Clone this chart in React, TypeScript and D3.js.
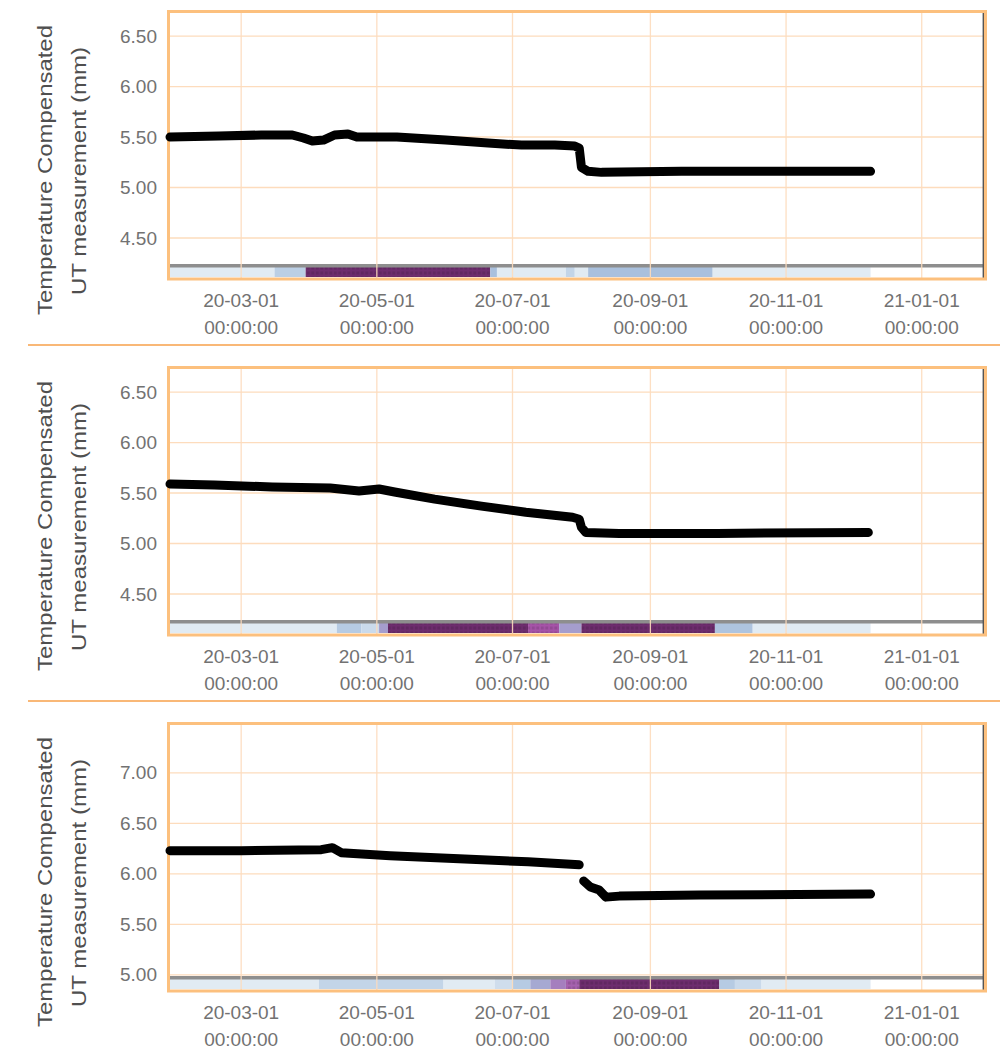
import React from "react";
import * as d3 from "d3";

// ---- data ----
const xDomain = ["2020-01-29", "2021-01-29"];
const xTicks = ["2020-03-01", "2020-05-01", "2020-07-01", "2020-09-01", "2020-11-01", "2021-01-01"];

const yTicksA = [4.5, 5.0, 5.5, 6.0, 6.5];
const yTicksB = [5.0, 5.5, 6.0, 6.5, 7.0];
const yDomainA = [4.104, 6.738];
const yDomainB = [4.85, 7.485];

const titleLines = ["Temperature Compensated", "UT measurement (mm)"];

const series1: [string, number | null][] = [
  ["2020-01-29", 5.5], ["2020-02-20", 5.51], ["2020-03-10", 5.52], ["2020-03-24", 5.52],
  ["2020-03-29", 5.49], ["2020-04-02", 5.46], ["2020-04-07", 5.47], ["2020-04-12", 5.52],
  ["2020-04-18", 5.53], ["2020-04-22", 5.5], ["2020-05-10", 5.5], ["2020-06-01", 5.47],
  ["2020-06-20", 5.44], ["2020-07-05", 5.42], ["2020-07-20", 5.42], ["2020-07-29", 5.41],
  ["2020-07-31", 5.39], ["2020-08-01", 5.2], ["2020-08-04", 5.16], ["2020-08-10", 5.15],
  ["2020-09-15", 5.16], ["2020-10-20", 5.16], ["2020-12-09", 5.16],
];

const series2: [string, number | null][] = [
  ["2020-01-29", 5.59], ["2020-02-18", 5.58], ["2020-03-15", 5.56], ["2020-04-10", 5.55],
  ["2020-04-23", 5.52], ["2020-05-02", 5.54], ["2020-05-09", 5.51], ["2020-05-27", 5.44],
  ["2020-06-17", 5.37], ["2020-07-07", 5.31], ["2020-07-28", 5.26], ["2020-07-31", 5.24],
  ["2020-08-01", 5.16], ["2020-08-03", 5.11], ["2020-08-18", 5.1], ["2020-10-01", 5.1],
  ["2020-12-08", 5.11],
];

const series3: [string, number | null][] = [
  ["2020-01-29", 6.23], ["2020-03-01", 6.23], ["2020-04-06", 6.24], ["2020-04-11", 6.26],
  ["2020-04-15", 6.21], ["2020-05-07", 6.18], ["2020-06-07", 6.15], ["2020-07-08", 6.12],
  ["2020-07-31", 6.09], ["2020-08-01", null], ["2020-08-02", 5.93], ["2020-08-05", 5.87],
  ["2020-08-09", 5.84], ["2020-08-12", 5.77], ["2020-08-18", 5.78], ["2020-09-23", 5.79],
  ["2020-12-09", 5.8],
];

// strip: [start, end, intensity]
const strip1: [string, string, number][] = [
  ["2020-01-29", "2020-03-16", 0.12], ["2020-03-16", "2020-03-30", 0.28],
  ["2020-03-30", "2020-06-21", 1.0], ["2020-06-21", "2020-06-24", 0.35],
  ["2020-06-24", "2020-07-25", 0.12], ["2020-07-25", "2020-07-29", 0.25],
  ["2020-07-29", "2020-08-04", 0.12], ["2020-08-04", "2020-09-29", 0.35],
  ["2020-09-29", "2020-12-09", 0.12],
];
const strip2: [string, string, number][] = [
  ["2020-01-29", "2020-04-13", 0.12], ["2020-04-13", "2020-04-24", 0.3],
  ["2020-04-24", "2020-05-02", 0.22], ["2020-05-02", "2020-05-06", 0.5],
  ["2020-05-06", "2020-07-08", 1.0], ["2020-07-08", "2020-07-22", 0.75],
  ["2020-07-22", "2020-08-01", 0.5], ["2020-08-01", "2020-09-30", 1.0],
  ["2020-09-30", "2020-10-17", 0.33], ["2020-10-17", "2020-12-09", 0.12],
];
const strip3: [string, string, number][] = [
  ["2020-01-29", "2020-04-05", 0.12], ["2020-04-05", "2020-05-31", 0.25],
  ["2020-05-31", "2020-06-23", 0.12], ["2020-06-23", "2020-07-01", 0.2],
  ["2020-07-01", "2020-07-09", 0.3], ["2020-07-09", "2020-07-18", 0.45],
  ["2020-07-18", "2020-07-25", 0.6], ["2020-07-25", "2020-07-31", 0.7],
  ["2020-07-31", "2020-10-02", 1.0], ["2020-10-02", "2020-10-09", 0.3],
  ["2020-10-09", "2020-10-21", 0.22], ["2020-10-21", "2020-12-09", 0.12],
];

const colorStops = [0.12, 0.25, 0.35, 0.5, 0.75, 1.0];
const colorRange = ["#e1ebf3", "#c3d5e8", "#a9c0dd", "#a59dcd", "#a653a8", "#6e2d6e"];

export default function App() {
  const parse = d3.timeParse("%Y-%m-%d");
  const x = d3.scaleTime().domain(xDomain.map((s) => parse(s) as Date)).range([170, 984]);
  const fmtDate = d3.timeFormat("%y-%m-%d");
  const fmtTime = d3.timeFormat("%H:%M:%S");
  const fmtY = d3.format(".2f");
  const color = d3.scaleLinear<string>().domain(colorStops).range(colorRange).clamp(true);

  const panels = [
    { series: series1, strip: strip1, yDomain: yDomainA, yTicks: yTicksA },
    { series: series2, strip: strip2, yDomain: yDomainA, yTicks: yTicksA },
    { series: series3, strip: strip3, yDomain: yDomainB, yTicks: yTicksB },
  ];

  const gridColor = "#fddcbd";
  const frameColor = "#fcc07e";
  const tickColor = "#727272";

  return (
    <svg
      width={1007}
      height={1049}
      style={{ position: "absolute", left: 0, top: 0, display: "block", background: "#fff" }}
      fontFamily="'Liberation Sans', Arial, sans-serif"
    >
      <defs>
        <pattern id="dots" width={4.5} height={5} patternUnits="userSpaceOnUse">
          <rect x={0.8} y={1.5} width={3} height={3} fill="#000" opacity={0.12} />
        </pattern>
      </defs>
      <rect x={0} y={0} width={1007} height={1049} fill="#fff" />
      {panels.map((p, i) => {
        const o = i * 356;
        const top = 12 + o;
        const bottom = 278 + o;
        const left = 170;
        const right = 984;
        const y = d3.scaleLinear().domain(p.yDomain).range([bottom, top]);
        const line = d3
          .line<[string, number | null]>()
          .defined((d) => d[1] != null)
          .x((d) => x(parse(d[0]) as Date))
          .y((d) => y(d[1] as number));
        const xt = xTicks.map((s) => parse(s) as Date);
        return (
          <g key={i}>
            {/* strip */}
            {p.strip.map((s, j) => {
              const x0 = x(parse(s[0]) as Date);
              const x1 = x(parse(s[1]) as Date);
              return (
                <g key={j}>
                  <rect x={x0} y={bottom - 11} width={Math.max(0, x1 - x0)} height={10} fill={color(s[2])} />
                  {s[2] >= 0.7 && (
                    <rect x={x0} y={bottom - 11} width={Math.max(0, x1 - x0)} height={10} fill="url(#dots)" />
                  )}
                </g>
              );
            })}
            <rect x={left} y={bottom - 14} width={right - left} height={3.5} fill="#8e8e8e" />
            {/* grid */}
            {xt.map((d, j) => (
              <line key={"gx" + j} x1={x(d)} x2={x(d)} y1={top} y2={bottom} stroke={gridColor} strokeWidth={1.3} opacity={0.9} />
            ))}
            {p.yTicks.map((v, j) => (
              <line key={"gy" + j} x1={left} x2={right} y1={y(v)} y2={y(v)} stroke={gridColor} strokeWidth={1.3} />
            ))}
            {/* right dark edge */}
            <line x1={983.5} x2={983.5} y1={top} y2={bottom} stroke="#555" strokeWidth={1.8} />
            {/* frame */}
            <rect x={168.5} y={top - 0.5} width={817} height={bottom - top + 1.5} fill="none" stroke={frameColor} strokeWidth={3} />
            {/* data line */}
            <path
              d={line(p.series) || ""}
              fill="none"
              stroke="#000"
              strokeWidth={9}
              strokeLinejoin="round"
              strokeLinecap="round"
            />
            {/* y tick labels */}
            {p.yTicks.map((v, j) => (
              <text key={"ty" + j} x={157} y={y(v) + 6.5} textAnchor="end" fontSize={19} fill={tickColor}>
                {fmtY(v)}
              </text>
            ))}
            {/* x tick labels */}
            {xt.map((d, j) => (
              <g key={"tx" + j}>
                <text x={x(d)} y={bottom + 29} textAnchor="middle" fontSize={19} fill={tickColor}>
                  {fmtDate(d)}
                </text>
                <text x={x(d)} y={bottom + 56} textAnchor="middle" fontSize={19} fill={tickColor}>
                  {fmtTime(d)}
                </text>
              </g>
            ))}
            {/* y title */}
            <text
              x={51.5}
              y={170 + o}
              transform={`rotate(-90, 51.5, ${170 + o})`}
              textAnchor="middle"
              fontSize={20}
              fill="#4f4f4f"
              textLength={290}
              lengthAdjust="spacingAndGlyphs"
            >
              {titleLines[0]}
            </text>
            <text
              x={86}
              y={171 + o}
              transform={`rotate(-90, 86, ${171 + o})`}
              textAnchor="middle"
              fontSize={20}
              fill="#4f4f4f"
              textLength={248}
              lengthAdjust="spacingAndGlyphs"
            >
              {titleLines[1]}
            </text>
            {i < 2 && <line x1={28} x2={1000} y1={345 + o} y2={345 + o} stroke="#f9b877" strokeWidth={2} />}
          </g>
        );
      })}
    </svg>
  );
}
